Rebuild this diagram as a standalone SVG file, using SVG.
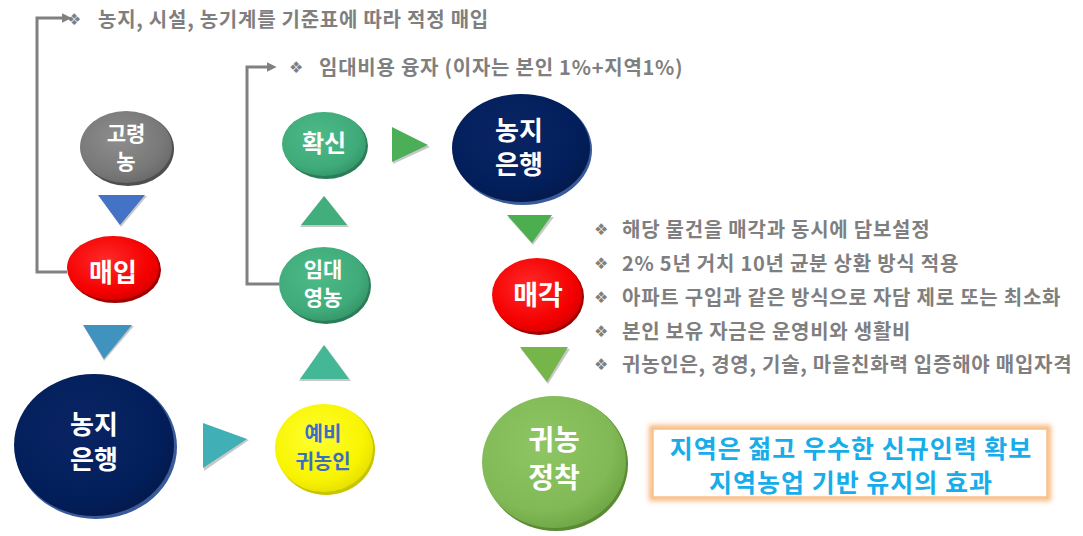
<svg xmlns="http://www.w3.org/2000/svg" width="1083" height="536" viewBox="0 0 1083 536">
<defs>
<style>
.t{font-family:"Noto Sans CJK KR","Noto Sans",sans-serif;font-weight:700;}
.g{fill:#7f7f7f;font-size:20px;letter-spacing:0.75px;}
.b{fill:#7f7f7f;font-size:16px;font-family:"DejaVu Sans",sans-serif;}
.w{fill:#ffffff;text-anchor:middle;}
.con{fill:none;stroke:#808080;stroke-width:3;}
.sh{fill:#9a9a9a;opacity:0.55;}
</style>
<marker id="ah" viewBox="0 0 10 10" refX="2" refY="5" markerWidth="3.2" markerHeight="3.2" orient="auto" markerUnits="strokeWidth">
<path d="M0,0 L10,5 L0,10 z" fill="#808080"/>
</marker>
<radialGradient id="gGray" cx="0.42" cy="0.38" r="0.65"><stop offset="0" stop-color="#8e8e8e"/><stop offset="0.75" stop-color="#787878"/><stop offset="1" stop-color="#6a6a6a"/></radialGradient>
<radialGradient id="gRed" cx="0.42" cy="0.38" r="0.65"><stop offset="0" stop-color="#ff2a2a"/><stop offset="0.75" stop-color="#f50000"/><stop offset="1" stop-color="#d80000"/></radialGradient>
<radialGradient id="gNavy" cx="0.42" cy="0.38" r="0.65"><stop offset="0" stop-color="#0a2462"/><stop offset="0.75" stop-color="#021f5c"/><stop offset="1" stop-color="#041a4c"/></radialGradient>
<radialGradient id="gYel" cx="0.42" cy="0.38" r="0.65"><stop offset="0" stop-color="#ffff30"/><stop offset="0.75" stop-color="#f8f400"/><stop offset="1" stop-color="#e6e000"/></radialGradient>
<radialGradient id="gGrn" cx="0.42" cy="0.38" r="0.65"><stop offset="0" stop-color="#4dba88"/><stop offset="0.75" stop-color="#40ab7a"/><stop offset="1" stop-color="#35966a"/></radialGradient>
<radialGradient id="gLg" cx="0.42" cy="0.38" r="0.65"><stop offset="0" stop-color="#8fc665"/><stop offset="0.75" stop-color="#80b955"/><stop offset="1" stop-color="#6fa646"/></radialGradient>
<filter id="blur" x="-10%" y="-30%" width="120%" height="160%"><feGaussianBlur stdDeviation="2.5"/></filter>
</defs>
<rect width="1083" height="536" fill="#ffffff"/>

<g id="connectors">
<polyline class="con" points="67,272 37,272 37,18 64,18" marker-end="url(#ah)"/>
<polyline class="con" points="279,284 247,284 247,67 269,67" marker-end="url(#ah)"/>
<polygon class="sh" points="99,196 147,196 121,227"/>
<polygon points="98,195 145,195 120,225" fill="#4472c4"/>
<polygon class="sh" points="84,326 134,326 104,361"/>
<polygon points="83,325 132,325 104,359" fill="#4193bf"/>
<polygon class="sh" points="204,425 249,440 204,471"/>
<polygon points="203,423 247,439 203,468" fill="#40b0b6"/>
<polygon class="sh" points="299,381 351,381 325,346"/>
<polygon points="300,379 349,379 324,345" fill="#44b797"/>
<polygon class="sh" points="300,227 349,227 325,197"/>
<polygon points="301,225 347,225 324,196" fill="#42ae7c"/>
<polygon class="sh" points="393,129 430,147 393,164"/>
<polygon points="392,127 428,145 392,162" fill="#4caf58"/>
<polygon class="sh" points="508,217 554,217 533,245"/>
<polygon points="507,215 552,215 532,243" fill="#4caf4f"/>
<polygon class="sh" points="521,349 570,349 548,384"/>
<polygon points="520,347 568,347 547,382" fill="#75b54a"/>
</g>

<g id="text-top1">
<text class="b" x="67" y="19" dominant-baseline="central">❖</text>
<text class="t g" x="98" y="18" dominant-baseline="central">농지, 시설, 농기계를 기준표에 따라 적정 매입</text>
</g>
<g id="text-top2">
<text class="b" x="289" y="67" dominant-baseline="central">❖</text>
<text class="t g" x="319" y="66" dominant-baseline="central">임대비용 융자 (이자는 본인 1%+지역1%)</text>
</g>

<g id="node-goryeong">
<ellipse cx="128" cy="149" rx="46" ry="37" fill="#4f4f4f"/>
<ellipse cx="126" cy="147" rx="46" ry="36" fill="url(#gGray)"/>
<text class="t w" x="126" y="132" font-size="21" dominant-baseline="central">고령</text>
<text class="t w" x="126" y="160" font-size="21" dominant-baseline="central">농</text>
</g>

<g id="node-maeip">
<ellipse cx="115" cy="270" rx="46" ry="33" fill="#a00000"/>
<ellipse cx="113" cy="268" rx="46" ry="32" fill="url(#gRed)"/>
<text class="t w" x="113" y="270" font-size="26" dominant-baseline="central">매입</text>
</g>

<g id="node-bank1">
<ellipse cx="96" cy="447" rx="81" ry="72" fill="#3a5a9a"/>
<ellipse cx="94" cy="445" rx="80" ry="71" fill="url(#gNavy)"/>
<text class="t w" x="94" y="422" font-size="26" dominant-baseline="central">농지</text>
<text class="t w" x="94" y="457" font-size="26" dominant-baseline="central">은행</text>
</g>

<g id="node-yebi">
<ellipse cx="326" cy="450" rx="49" ry="45" fill="#c8c400"/>
<ellipse cx="324" cy="448" rx="49" ry="44" fill="url(#gYel)"/>
<text class="t" x="323" y="432" font-size="20" fill="#3b6ec2" text-anchor="middle" dominant-baseline="central">예비</text>
<text class="t" x="323" y="460" font-size="20" fill="#3b6ec2" text-anchor="middle" dominant-baseline="central">귀농인</text>
</g>

<g id="node-imdae">
<ellipse cx="326" cy="286" rx="45" ry="38" fill="#2b7d58"/>
<ellipse cx="324" cy="284" rx="45" ry="37" fill="url(#gGrn)"/>
<text class="t w" x="323" y="268" font-size="21" dominant-baseline="central">임대</text>
<text class="t w" x="323" y="296" font-size="21" dominant-baseline="central">영농</text>
</g>

<g id="node-hwaksin">
<ellipse cx="326" cy="146" rx="42" ry="33" fill="#2b7d58"/>
<ellipse cx="324" cy="144" rx="42" ry="32" fill="url(#gGrn)"/>
<text class="t w" x="324" y="141" font-size="24" dominant-baseline="central">확신</text>
</g>

<g id="node-bank2">
<ellipse cx="523" cy="150" rx="69" ry="55" fill="#3a5a9a"/>
<ellipse cx="521" cy="148" rx="69" ry="54" fill="url(#gNavy)"/>
<text class="t w" x="519" y="128" font-size="26" dominant-baseline="central">농지</text>
<text class="t w" x="519" y="162" font-size="26" dominant-baseline="central">은행</text>
</g>

<g id="node-maegak">
<ellipse cx="539" cy="297" rx="45" ry="38" fill="#a00000"/>
<ellipse cx="537" cy="295" rx="45" ry="37" fill="url(#gRed)"/>
<text class="t w" x="538" y="293" font-size="27" dominant-baseline="central">매각</text>
</g>

<g id="node-jeongchak">
<ellipse cx="556" cy="464" rx="72" ry="67" fill="#5a8a34"/>
<ellipse cx="554" cy="462" rx="72" ry="66" fill="url(#gLg)"/>
<text class="t w" x="554" y="438" font-size="28" dominant-baseline="central">귀농</text>
<text class="t w" x="554" y="476" font-size="28" dominant-baseline="central">정착</text>
</g>

<g id="text-bullets">
<text class="b" x="594" y="229" dominant-baseline="central">❖</text>
<text class="t g" x="622" y="228" dominant-baseline="central">해당 물건을 매각과 동시에 담보설정</text>
<text class="b" x="594" y="263" dominant-baseline="central">❖</text>
<text class="t g" x="622" y="262" dominant-baseline="central">2% 5년 거치 10년 균분 상환 방식 적용</text>
<text class="b" x="594" y="297" dominant-baseline="central">❖</text>
<text class="t g" x="622" y="296" dominant-baseline="central">아파트 구입과 같은 방식으로 자담 제로 또는 최소화</text>
<text class="b" x="594" y="331" dominant-baseline="central">❖</text>
<text class="t g" x="622" y="330" dominant-baseline="central">본인 보유 자금은 운영비와 생활비</text>
<text class="b" x="594" y="364" dominant-baseline="central">❖</text>
<text class="t g" x="622" y="363" dominant-baseline="central">귀농인은, 경영, 기술, 마을친화력 입증해야 매입자격</text>
</g>

<g id="result-box">
<rect x="652" y="428" width="396" height="70" fill="none" stroke="#f9b77a" stroke-width="6" filter="url(#blur)"/>
<rect x="653" y="429" width="394" height="68" fill="#ffffff" stroke="#f8c08a" stroke-width="1.5"/>
<text class="t" x="851" y="447" font-size="25" letter-spacing="1" fill="#16adea" text-anchor="middle" dominant-baseline="central">지역은 젊고 우수한 신규인력 확보</text>
<text class="t" x="851" y="481" font-size="25" letter-spacing="1" fill="#16adea" text-anchor="middle" dominant-baseline="central">지역농업 기반 유지의 효과</text>
</g>
</svg>
